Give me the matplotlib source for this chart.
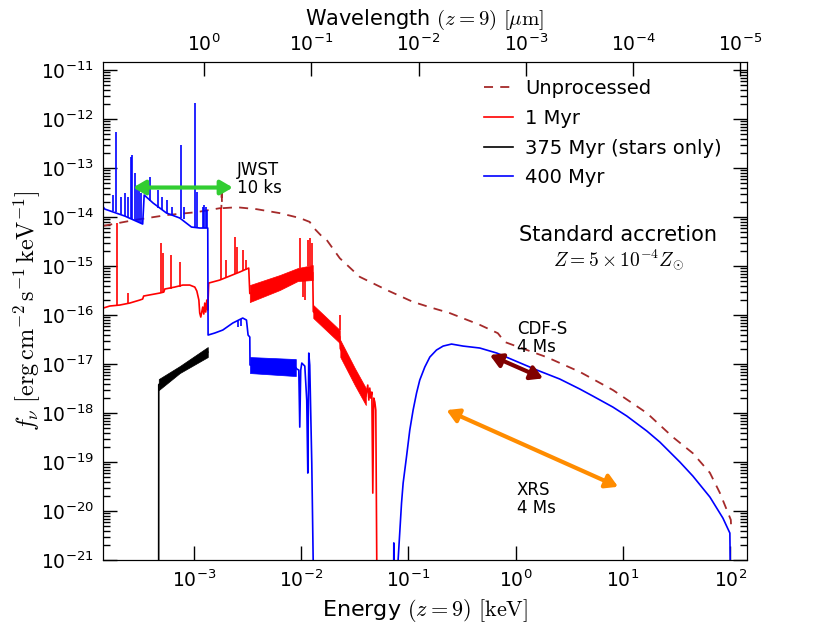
import numpy as np
import matplotlib
matplotlib.use('Agg')
import matplotlib.pyplot as plt
from matplotlib.ticker import LogLocator, NullLocator

plt.rcParams['font.family'] = 'DejaVu Sans'
plt.rcParams['mathtext.fontset'] = 'cm'

# all spectra, stored as log10(E [keV]) and log10(f_nu)

# unprocessed spectrum (dashed)
unproc_logE = [-3.846, -3.553, -3.255, -2.975, -2.760, -2.745, -2.742, -2.739, -2.601,
               -2.415, -2.201, -2.014, -1.921, -1.893, -1.801, -1.762, -1.641, -1.455,
               -1.202, -0.960, -0.801, -0.615, -0.335, -0.167, -0.102, -0.027, 0.290,
               0.598, 0.906, 1.223, 1.465, 1.652, 1.811, 1.904, 1.969, 2.006, 2.010]
unproc_logF = [-14.18, -14.06, -13.96, -13.90, -13.82, -13.82, -13.39, -13.82, -13.80,
               -13.84, -13.92, -14.02, -14.10, -14.20, -14.41, -14.47, -14.84, -15.22,
               -15.49, -15.73, -15.84, -15.96, -16.20, -16.37, -16.55, -16.61, -16.86,
               -17.16, -17.53, -18.00, -18.49, -18.82, -19.22, -19.63, -19.98, -20.18, -20.40]

# 1 Myr (red)
red_logE = [-3.846, -3.786, -3.693, -3.599, -3.506, -3.479, -3.470, -3.319, -3.282, -3.273,
            -3.180, -3.105, -3.040, -2.993, -2.974, -2.955, -2.947, -2.937, -2.919, -2.909,
            -2.900, -2.891, -2.881, -2.872, -2.863, -2.760, -2.667, -2.574, -2.490, -2.480,
            -2.201, -2.033, -1.893, -1.888, -1.641, -1.636, -1.501, -1.398, -1.380, -1.370,
            -1.361, -1.352, -1.342, -1.333, -1.324, -1.314, -1.305, -1.296, -1.290]
red_logF = [-15.857, -15.816, -15.796, -15.755, -15.694, -15.673, -15.612, -15.551, -15.531, -15.469,
            -15.429, -15.388, -15.388, -15.429, -15.510, -15.694, -15.959, -16.041, -15.837, -15.980,
            -15.755, -15.939, -15.694, -15.898, -15.347, -15.286, -15.204, -15.122, -15.041, -15.561,
            -15.337, -15.173, -15.133, -15.929, -16.439, -16.684, -17.255, -17.663, -17.429, -17.735,
            -17.490, -17.694, -17.571, -19.633, -17.694, -17.776, -17.939, -21.0, -22.0]

red_bandB_logE = [-2.480, -2.201, -2.033, -1.893]
red_bandB_top = [-15.388, -15.184, -15.041, -14.980]
red_bandB_bot = [-15.735, -15.490, -15.306, -15.286]
red_bandC_logE = [-1.888, -1.641]
red_bandC_top = [-15.796, -16.306]
red_bandC_bot = [-16.061, -16.571]
red_bandD_logE = [-1.636, -1.501, -1.398]
red_bandD_top = [-16.510, -17.082, -17.490]
red_bandD_bot = [-16.857, -17.429, -17.837]

red_line_logE = [-3.717, -3.616, -3.304, -3.289, -3.211, -3.133, -2.744, -2.698, -2.620, -2.599,
                 -2.543, -2.511, -2.014, -1.985, -1.967, -1.939, -1.921, -1.902, -1.641]
red_line_base = [-15.80, -15.76, -15.55, -15.55, -15.47, -15.43, -15.27, -15.22, -15.16, -15.14,
                 -15.10, -15.08, -15.04, -15.29, -15.29, -15.00, -15.00, -15.00, -16.30]
red_line_peak = [-14.12, -15.55, -14.53, -14.74, -14.78, -14.92, -13.82, -14.88, -14.41, -14.61,
                 -14.67, -14.88, -14.43, -15.63, -15.69, -14.47, -14.43, -14.53, -16.00]

# 375 Myr stars only (black)
black_logE = [-3.330, -3.329, -3.133, -2.872]
black_logF = [-22.0, -17.42, -17.11, -16.755]
black_band_logE = [-3.329, -3.133, -2.872]
black_band_top = [-17.306, -17.041, -16.653]
black_band_bot = [-17.531, -17.184, -16.857]

# 400 Myr (blue), UV/optical part
blue_logE = [-3.846, -3.833, -3.646, -3.479, -3.465, -3.382, -3.257, -3.133, -3.024, -2.947,
             -2.872, -2.869, -2.807, -2.732, -2.639, -2.546, -2.511, -2.496, -2.480, -2.478,
             -2.051, -2.042, -2.023, -2.014, -2.005, -1.995, -1.967, -1.949, -1.939, -1.930,
             -1.921, -1.902, -1.889, -1.885]
blue_logF = [-13.796, -13.837, -13.980, -14.143, -13.551, -13.714, -13.918, -14.020, -14.204, -14.224,
             -14.224, -16.408, -16.367, -16.306, -16.163, -16.061, -16.102, -16.408, -16.449, -17.020,
             -17.071, -17.10, -17.122, -18.286, -17.122, -16.980, -17.041, -17.735, -19.224, -16.776,
             -17.020, -19.020, -21.0, -22.0]
blue_band_logE = [-2.478, -2.051]
blue_band_top = [-16.857, -16.898]
blue_band_bot = [-17.184, -17.245]

blue_line_logE = [-3.756, -3.724, -3.677, -3.646, -3.618, -3.584, -3.575, -3.553, -3.534, -3.515,
                  -3.497, -3.413, -3.336, -3.302, -3.255, -3.208, -3.124, -3.096, -2.993, -2.974,
                  -2.919, -2.905, -2.891, -2.881, -2.592, -2.564]
blue_line_base = [-13.878, -13.898, -13.939, -13.980, -14.000, -14.041, -14.041, -14.061, -14.082, -14.102,
                  -14.122, -13.673, -13.816, -13.857, -13.918, -13.959, -14.020, -14.041, -14.204, -14.204,
                  -14.224, -14.224, -14.224, -14.224, -16.122, -16.082]
blue_line_peak = [-13.551, -12.265, -13.592, -13.510, -13.592, -12.776, -12.735, -13.102, -13.388, -13.449,
                  -13.510, -13.184, -13.449, -13.592, -13.653, -13.796, -12.531, -13.796, -11.673, -13.490,
                  -13.796, -13.755, -13.796, -13.857, -16.245, -16.224]

# 400 Myr (blue), X-ray part
xray_logE = [-1.140, -1.137, -1.134, -1.100, -1.097, -1.065, -1.050, -1.019, -0.988, -0.957,
             -0.925, -0.895, -0.848, -0.801, -0.739, -0.677, -0.599, -0.491, -0.335, -0.176,
             0.197, 0.411, 0.598, 0.719, 0.906, 1.036, 1.223, 1.344, 1.531, 1.652,
             1.811, 1.932, 1.997, 2.000, 2.002]
xray_logF = [-22.0, -20.65, -22.0, -22.0, -21.0, -19.837, -19.429, -18.898, -18.347, -17.939,
             -17.592, -17.327, -17.061, -16.857, -16.714, -16.633, -16.592, -16.633, -16.673, -16.776,
             -17.122, -17.306, -17.510, -17.653, -17.878, -18.061, -18.367, -18.592, -19.0, -19.286,
             -19.714, -20.143, -20.449, -21.0, -22.0]

# instrument bands (energy range, flux level at each end)
jwst_E = [2.7e-4, 2.3e-3]
jwst_F = [4.0e-14, 4.0e-14]
cdfs_E = [0.573, 1.80]
cdfs_F = [1.53e-17, 5.1e-18]
xrs_E = [0.226, 9.02]
xrs_F = [1.15e-18, 3.13e-20]

xmin, xmax = 1.426e-4, 142.2
ymin, ymax = 1e-21, 1.48e-11
hc = 1.24e-3  # keV um


def p(a):
    return 10 ** np.array(a)


fig = plt.figure(figsize=(8.3, 6.23), dpi=100)
ax = fig.add_axes([0.1245, 0.101, 0.775, 0.800])

lw = 1.2
ax.plot(p(unproc_logE), p(unproc_logF), color='#a52a2a', ls=(0, (5, 4)), lw=1.3, label='Unprocessed')

ax.plot(p(red_logE), p(red_logF), color='red', lw=lw, label='1 Myr')
for e, t, b in [(red_bandB_logE, red_bandB_top, red_bandB_bot),
                (red_bandC_logE, red_bandC_top, red_bandC_bot),
                (red_bandD_logE, red_bandD_top, red_bandD_bot)]:
    ax.fill_between(p(e), p(t), p(b), color='red', lw=0.5)
ax.vlines(p(red_line_logE), p(red_line_base), p(red_line_peak), color='red', lw=lw)

ax.plot(p(black_logE), p(black_logF), color='black', lw=lw, label='375 Myr (stars only)')
ax.fill_between(p(black_band_logE), p(black_band_top), p(black_band_bot), color='black', lw=0.5)

ax.plot(p(blue_logE), p(blue_logF), color='blue', lw=lw, label='400 Myr')
ax.fill_between(p(blue_band_logE), p(blue_band_top), p(blue_band_bot), color='blue', lw=0.5)
ax.vlines(p(blue_line_logE), p(blue_line_base), p(blue_line_peak), color='blue', lw=lw)
ax.plot(p(xray_logE), p(xray_logF), color='blue', lw=lw)

arrow = '<|-|>,head_length=0.6,head_width=0.35'
for E, F, c in [(jwst_E, jwst_F, 'limegreen'), (cdfs_E, cdfs_F, '#800000'), (xrs_E, xrs_F, 'darkorange')]:
    ax.annotate('', xy=(E[1], F[1]), xytext=(E[0], F[0]),
                arrowprops=dict(arrowstyle=arrow, color=c, lw=3, mutation_scale=12,
                                shrinkA=0, shrinkB=0))

ax.text(2.49e-3, 5.97e-14, 'JWST\n10 ks', fontsize=12, ha='left', va='center', linespacing=1.0)
ax.text(1.02, 3.48e-17, 'CDF-S\n4 Ms', fontsize=12, ha='left', va='center', linespacing=1.0)
ax.text(1.02, 1.76e-20, 'XRS\n4 Ms', fontsize=12, ha='left', va='center', linespacing=1.0)
ax.text(0.80, 0.652, 'Standard accretion', fontsize=15, ha='center', va='center', transform=ax.transAxes)
ax.text(0.80, 0.602, r'$Z=5\times10^{-4}Z_{\odot}$', fontsize=14, ha='center', va='center',
        transform=ax.transAxes)

ax.set_xscale('log')
ax.set_yscale('log')
ax.set_xlim(xmin, xmax)
ax.set_ylim(ymin, ymax)
ax.xaxis.set_major_locator(LogLocator(base=10, numticks=20))
ax.xaxis.set_minor_locator(NullLocator())
ax.yaxis.set_major_locator(LogLocator(base=10, numticks=20))
ax.yaxis.set_minor_locator(LogLocator(base=10, subs=np.arange(2, 10), numticks=20))
ax.tick_params(which='both', direction='in', top=False, right=True, labelsize=13.5)
ax.tick_params(which='major', length=10, width=1, pad=7)
ax.tick_params(which='minor', length=5, width=1)
ax.set_xlabel(r'Energy $(z=9)$ $[\mathrm{keV}]$', fontsize=16)
ax.set_ylabel(r'$f_\nu\ [\mathrm{erg\,cm^{-2}\,s^{-1}\,keV^{-1}}]$', fontsize=17.5)
ax.yaxis.set_label_coords(-0.094, 0.5)

ax.legend(loc='upper left', bbox_to_anchor=(0.565, 1.0), frameon=False, fontsize=14,
          handlelength=1.5, handletextpad=0.6, labelspacing=0.55)

ax2 = ax.twiny()
ax2.set_xscale('log')
ax2.set_xlim(hc / xmin, hc / xmax)
ax2.xaxis.set_major_locator(LogLocator(base=10, numticks=20))
ax2.xaxis.set_minor_locator(NullLocator())
ax2.tick_params(which='major', direction='in', length=10, width=1, labelsize=13.5, pad=5)
ax2.set_xlabel(r'Wavelength $(z=9)$ $[\mu\mathrm{m}]$', fontsize=15, labelpad=6)

fig.savefig('out.png', dpi=100)
